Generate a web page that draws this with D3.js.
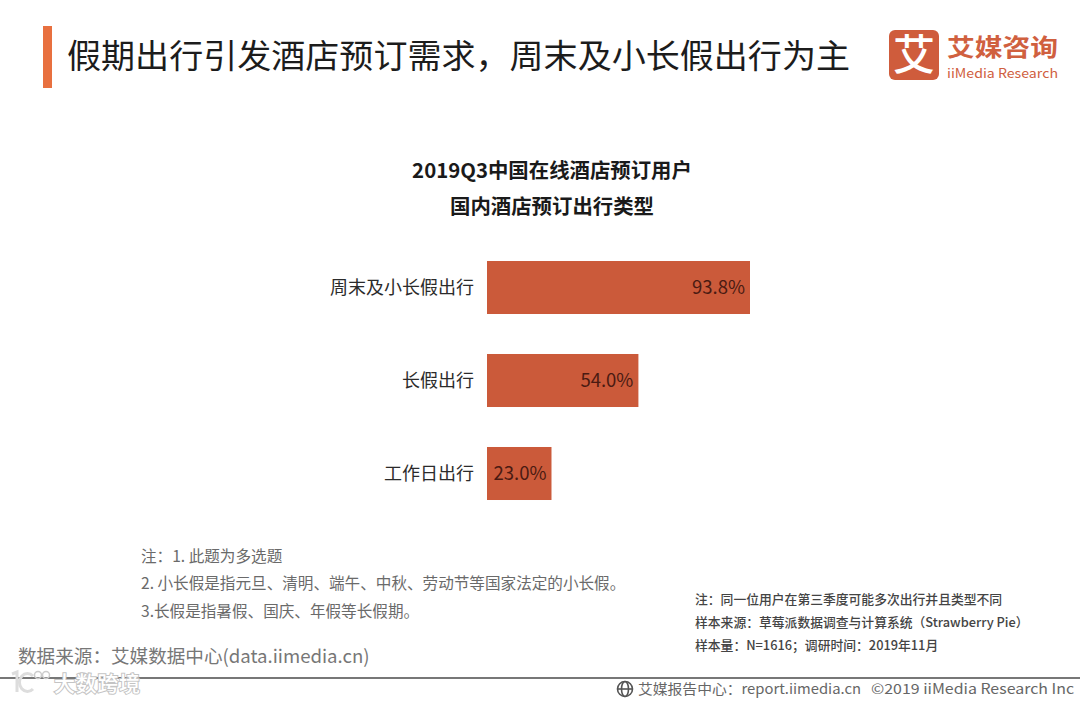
<!DOCTYPE html>
<html>
<head>
<meta charset="utf-8">
<script src="https://cdn.jsdelivr.net/npm/d3@7"></script>
<style>
  html, body { margin: 0; padding: 0; background: #fff; }
  svg { display: block; }
  text { font-family: "Noto Sans CJK SC", "Noto Sans", sans-serif; }
</style>
</head>
<body>
<svg id="chart" width="1080" height="702"></svg>
<script>
const categories = ["周末及小长假出行", "长假出行", "工作日出行"];
const values = [93.8, 54.0, 23.0];
const chart_title = ["2019Q3中国在线酒店预订用户", "国内酒店预订出行类型"];
const notes_left = ["注：1. 此题为多选题", "2. 小长假是指元旦、清明、端午、中秋、劳动节等国家法定的小长假。", "3.长假是指暑假、国庆、年假等长假期。"];
const notes_right = ["注：同一位用户在第三季度可能多次出行并且类型不同", "样本来源：草莓派数据调查与计算系统（Strawberry Pie）", "样本量：N=1616；调研时间：2019年11月"];

const svg = d3.select("#chart");

function add_text(x, y, str, size, fill, opts = {}) {
  return svg.append("text")
    .attr("x", x)
    .attr("y", y)
    .attr("font-size", size)
    .attr("fill", fill)
    .attr("font-weight", opts.weight || 400)
    .attr("text-anchor", opts.anchor || "start")
    .attr("textLength", opts.length || null)
    .attr("lengthAdjust", opts.length ? "spacingAndGlyphs" : null)
    .text(str);
}

// header
svg.append("rect").attr("x", 43).attr("y", 26).attr("width", 9).attr("height", 62).attr("fill", "#e8703f");
add_text(67, 68, "假期出行引发酒店预订需求，周末及小长假出行为主", 33, "#1c1c1c", { length: 783 });

// logo
svg.append("rect").attr("x", 889).attr("y", 30).attr("width", 50).attr("height", 50).attr("rx", 6).attr("fill", "#cf5c3c");
add_text(914, 70, "艾", 42, "#fff", { anchor: "middle", weight: 500 });
add_text(947, 56, "艾媒咨询", 24, "#d0603f", { weight: 700, length: 111 });
add_text(947, 78, "iiMedia Research", 13, "#d0603f", { length: 111 });

// chart title
chart_title.forEach((t, i) => {
  add_text(552, 178 + i * 36, t, 20.4, "#1a1a1a", { anchor: "middle", weight: 700 });
});

// bars
const x = d3.scaleLinear().domain([0, 93.8]).range([487, 750]);
const y = d3.scaleBand().domain(categories).range([241, 520]).paddingInner(0.43).paddingOuter(0.215);

const rows = categories.map((c, i) => ({ name: c, value: values[i] }));

svg.selectAll(".bar")
  .data(rows)
  .enter()
  .append("rect")
  .attr("class", "bar")
  .attr("x", x(0))
  .attr("y", d => y(d.name))
  .attr("width", d => x(d.value) - x(0))
  .attr("height", y.bandwidth())
  .attr("fill", "#cb5a3a");

svg.selectAll(".bar-label")
  .data(rows)
  .enter()
  .append("text")
  .attr("class", "bar-label")
  .attr("x", d => x(d.value) - 5)
  .attr("y", d => y(d.name) + y.bandwidth() / 2 + 6)
  .attr("text-anchor", "end")
  .attr("font-size", 18.5)
  .attr("fill", "#4a1a12")
  .text(d => d.value.toFixed(1) + "%");

const yAxis = d3.axisLeft(y).tickSize(0).tickPadding(13);
svg.append("g")
  .attr("transform", `translate(${ x(0) }, 1)`)
  .call(yAxis)
  .call(g => g.select(".domain").remove())
  .call(g => g.selectAll("text")
    .attr("font-size", 18)
    .attr("fill", "#2b2b2b")
    .style("font-family", '"Noto Sans CJK SC", sans-serif'));

// notes
notes_left.forEach((t, i) => {
  add_text(141, 561.5 + i * 27.5, t, 15.6, "#6a6a6a");
});
notes_right.forEach((t, i) => {
  add_text(695, 604 + i * 23, t, 12.8, "#444", { weight: 500 });
});

add_text(18, 663, "数据来源：艾媒数据中心(data.iimedia.cn)", 18.6, "#777");

// footer
svg.append("line").attr("x1", 0).attr("x2", 1080).attr("y1", 678).attr("y2", 678).attr("stroke", "#777").attr("stroke-width", 2);

const globe = svg.append("g").attr("fill", "none").attr("stroke", "#555").attr("stroke-width", 1.6);
globe.append("circle").attr("cx", 625).attr("cy", 689).attr("r", 7.5);
globe.append("ellipse").attr("cx", 625).attr("cy", 689).attr("rx", 3.5).attr("ry", 7.5);
globe.append("line").attr("x1", 617.5).attr("x2", 632.5).attr("y1", 689).attr("y2", 689);

add_text(638, 694, "艾媒报告中心：report.iimedia.cn", 14, "#666", { length: 223 });
add_text(871, 694, "©2019  iiMedia Research  Inc", 14, "#666", { length: 203 });

// watermark
const wm = svg.append("g").attr("fill", "#fff").attr("stroke", "#c4c4c4").attr("stroke-width", 2);
wm.append("path").attr("d", "M12 674 L17 672 L17 692").attr("fill", "none").attr("stroke", "#ddd").attr("stroke-width", 3);
wm.append("path").attr("d", "M33 676 A8 9 0 1 0 33 689").attr("fill", "none").attr("stroke", "#ddd").attr("stroke-width", 3);
wm.append("circle").attr("cx", 38).attr("cy", 675).attr("r", 3.5).attr("fill", "none").attr("stroke", "#ccc").attr("stroke-width", 1.5);
wm.append("circle").attr("cx", 46).attr("cy", 675).attr("r", 3.5).attr("fill", "none").attr("stroke", "#ccc").attr("stroke-width", 1.5);
wm.append("text").attr("x", 54).attr("y", 691).attr("font-size", 21).attr("font-weight", 500).attr("paint-order", "stroke").attr("textLength", 86).text("大数跨境");
</script>
</body>
</html>
